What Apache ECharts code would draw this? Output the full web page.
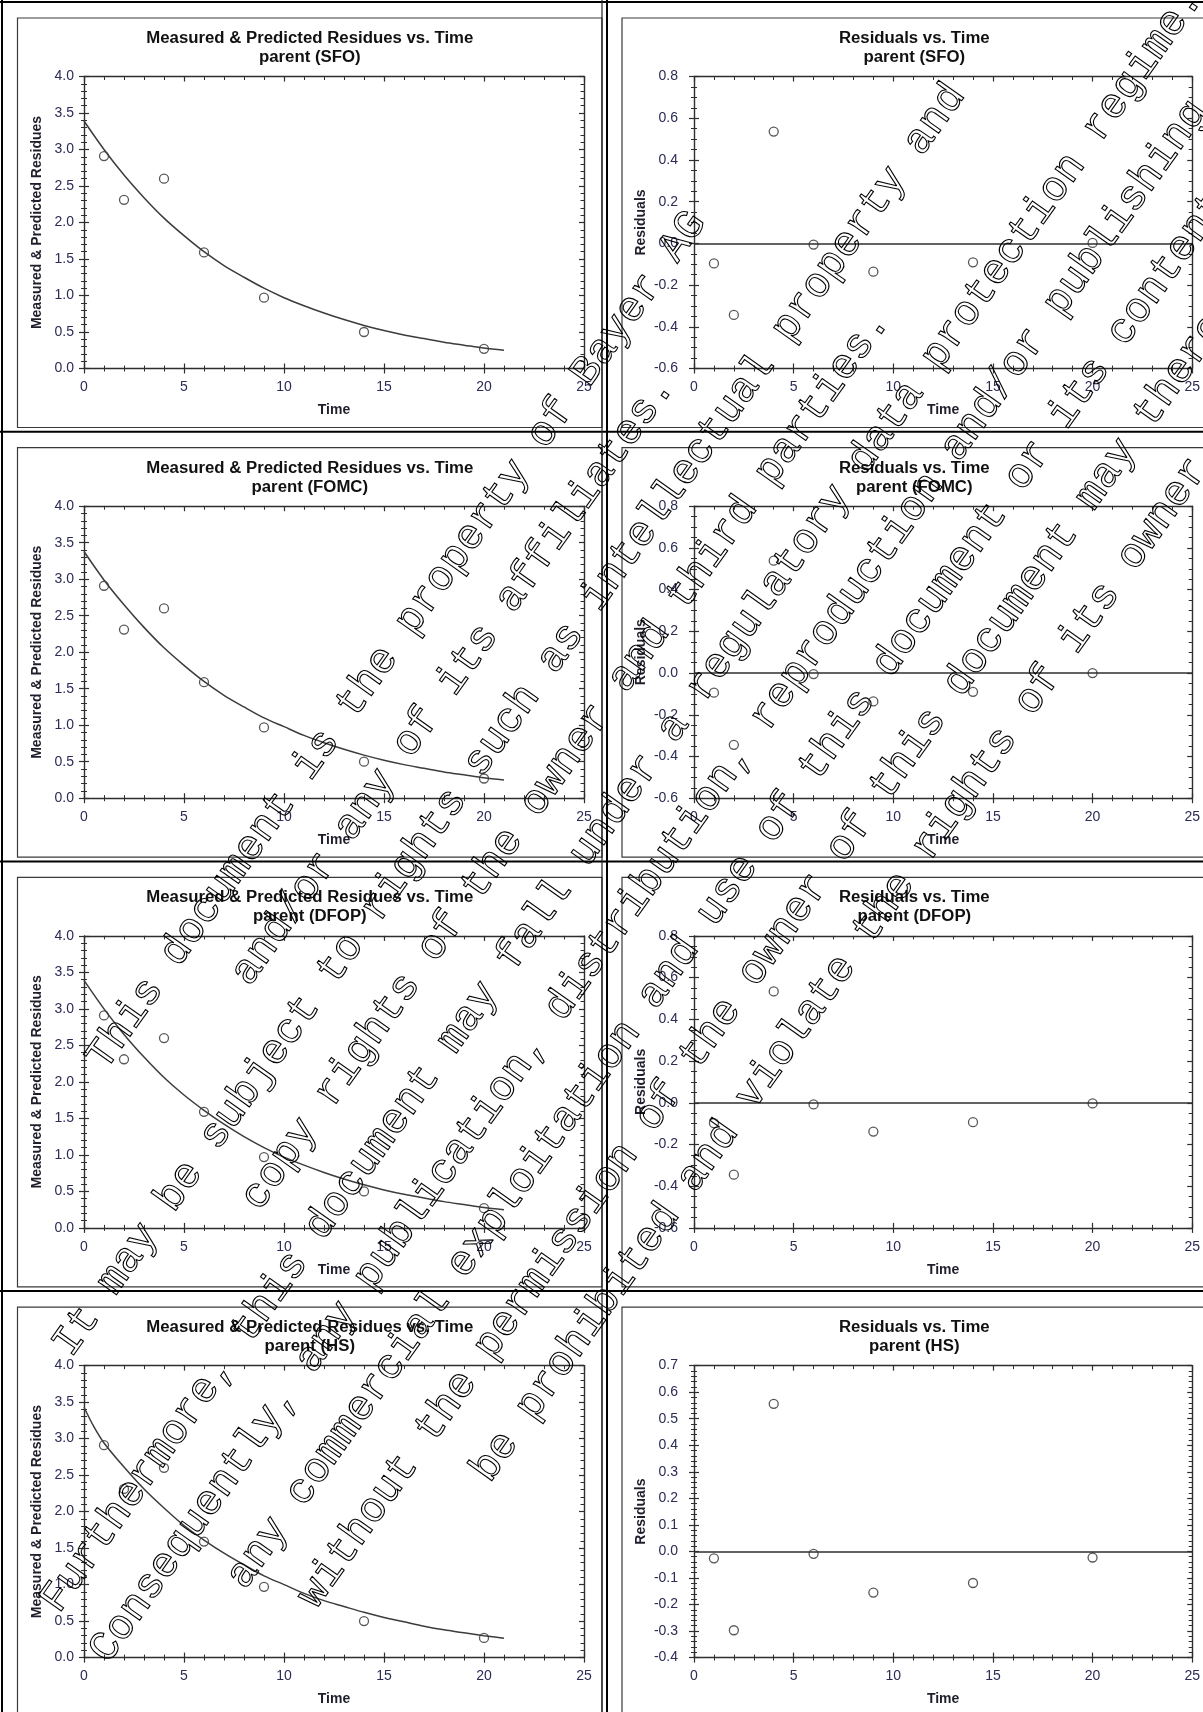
<!DOCTYPE html>
<html>
<head>
<meta charset="utf-8">
<script src="https://cdn.jsdelivr.net/npm/echarts@6/dist/echarts.min.js"></script>
<style>
html,body{margin:0;padding:0;background:#fff;}
#c{width:1203px;height:1712px;}
</style>
</head>
<body>
<div id="c"></div>
<script>
// ---------------- data ----------------
const sampleTimes = [1, 2, 4, 6, 9, 14, 20];
const measuredResidues = [2.91, 2.31, 2.60, 1.59, 0.97, 0.50, 0.27];

const fitTimes = [0, 1, 2, 3, 4, 5, 6, 7, 8, 9, 10, 11, 12, 13, 14, 15, 16, 17, 18, 19, 20, 21];
const fitSFO  = [3.39, 3.00, 2.65, 2.34, 2.06, 1.82, 1.60, 1.41, 1.25, 1.10, 0.97, 0.86, 0.76, 0.67, 0.59, 0.52, 0.46, 0.41, 0.36, 0.32, 0.28, 0.25];
const fitFOMC = [3.38, 2.99, 2.65, 2.34, 2.06, 1.82, 1.60, 1.41, 1.25, 1.10, 0.98, 0.86, 0.76, 0.67, 0.59, 0.52, 0.46, 0.41, 0.36, 0.32, 0.28, 0.25];
const fitDFOP = [3.39, 3.00, 2.65, 2.34, 2.06, 1.82, 1.61, 1.42, 1.25, 1.10, 0.97, 0.86, 0.76, 0.67, 0.59, 0.52, 0.46, 0.41, 0.36, 0.32, 0.28, 0.25];
const fitTimesHS = [0, 0.5, 1, 2, 3, 4, 5, 6, 7, 8, 9, 10, 11, 12, 13, 14, 15, 16, 17, 18, 19, 20, 21];
const fitHS   = [3.43, 3.16, 2.94, 2.61, 2.31, 2.05, 1.81, 1.61, 1.43, 1.27, 1.12, 1.00, 0.88, 0.78, 0.70, 0.62, 0.55, 0.49, 0.43, 0.38, 0.34, 0.30, 0.265];

const residSFO  = [-0.096, -0.343, 0.536, -0.006, -0.136, -0.091, 0.002];
const residFOMC = [-0.094, -0.344, 0.539, -0.005, -0.136, -0.090, 0.000];
const residDFOP = [-0.098, -0.345, 0.534, -0.008, -0.138, -0.093, -0.003];
const residHS   = [-0.026, -0.297, 0.556, -0.009, -0.155, -0.119, -0.023];

const modelNames = ['SFO', 'FOMC', 'DFOP', 'HS'];
const timeAxis = [0, 25, 5];            // min, max, step
const residueAxis = [0, 4, 0.5];        // min, max, step
const residualAxes = [[-0.6, 0.8, 0.2], [-0.6, 0.8, 0.2], [-0.6, 0.8, 0.2], [-0.4, 0.7, 0.1]];
const residualMinorSplits = [4, 4, 4, 5];

const watermarkLines = [
  "This document is the property of Bayer AG",
  "and/or any of its affiliates.",
  "It may be subject to rights such as intellectual property and",
  "copy rights of the owner and third parties.",
  "Furthermore, this document may fall under a regulatory data protection regime.",
  "Consequently, any publication, distribution, reproduction and/or publishing and",
  "any commercial exploitation and use of this document or its contents",
  "without the permission of the owner of this document may therefore",
  "be prohibited and violate the rights of its owner."
];

// ---------------- layout / style ----------------
const FONT = '"Liberation Sans", Arial, Helvetica, sans-serif';
const LBL = '#2b2b55';
const AX = '#2e2e2e';
const colLeft = [84, 694];
const rowTop = [76.5, 506.2, 935.9, 1365.6];
const plotW = 500, plotH = 292;
const frameX = [17.5, 622], frameW = [584.5, 600];

const fitsByModel = { SFO: [fitTimes, fitSFO], FOMC: [fitTimes, fitFOMC], DFOP: [fitTimes, fitDFOP], HS: [fitTimesHS, fitHS] };
const residByModel = { SFO: residSFO, FOMC: residFOMC, DFOP: residDFOP, HS: residHS };

function fmt1(v) { return Math.abs(v) < 1e-9 ? '0.0' : v.toFixed(1); }

const grids = [], xAxes = [], yAxes = [], series = [], graphics = [];

function makeX(g) {
  const base = { gridIndex: g, type: 'value', min: timeAxis[0], max: timeAxis[1], interval: timeAxis[2],
    splitLine: { show: false }, minorSplitLine: { show: false } };
  xAxes.push(Object.assign({}, base, {
    position: 'bottom',
    axisLine: { show: true, onZero: false, lineStyle: { color: AX, width: 1.4 } },
    axisTick: { show: true, inside: false, length: 5, lineStyle: { color: AX, width: 1.2 } },
    minorTick: { show: true, splitNumber: 5, length: 3, lineStyle: { color: AX, width: 1 } },
    axisLabel: { show: true, margin: 12, fontSize: 14, fontFamily: FONT, color: LBL, showMinLabel: true, showMaxLabel: true },
    name: 'Time', nameLocation: 'middle', nameGap: 35,
    nameTextStyle: { fontSize: 14, fontWeight: 'bold', fontFamily: FONT, color: '#1e1e2c' }
  }));
  xAxes.push(Object.assign({}, base, {
    position: 'bottom',
    axisLine: { show: false, onZero: false },
    axisTick: { show: true, inside: true, length: 5, lineStyle: { color: AX, width: 1.2 } },
    minorTick: { show: true, splitNumber: 5, length: 3, lineStyle: { color: AX, width: 1 } },
    axisLabel: { show: false }
  }));
  xAxes.push(Object.assign({}, base, {
    position: 'top',
    axisLine: { show: true, onZero: false, lineStyle: { color: AX, width: 1.4 } },
    axisTick: { show: true, inside: true, length: 5, lineStyle: { color: AX, width: 1.2 } },
    minorTick: { show: true, splitNumber: 5, length: 3.5, lineStyle: { color: AX, width: 1 } },
    axisLabel: { show: false }
  }));
}

function makeY(g, range, minorSplit, name, gap, margin) {
  const base = { gridIndex: g, type: 'value', min: range[0], max: range[1], interval: range[2],
    splitLine: { show: false }, minorSplitLine: { show: false } };
  yAxes.push(Object.assign({}, base, {
    position: 'left',
    axisLine: { show: true, onZero: false, lineStyle: { color: AX, width: 1.4 } },
    axisTick: { show: true, inside: false, length: 5, lineStyle: { color: AX, width: 1.2 } },
    minorTick: { show: true, splitNumber: minorSplit, length: 3, lineStyle: { color: AX, width: 1 } },
    axisLabel: { show: true, margin: margin, fontSize: 14, fontFamily: FONT, color: LBL, formatter: fmt1, showMinLabel: true, showMaxLabel: true },
    name: name, nameLocation: 'middle', nameGap: gap,
    nameTextStyle: { fontSize: 14, fontWeight: 'bold', fontFamily: FONT, color: '#1e1e2c' }
  }));
  yAxes.push(Object.assign({}, base, {
    position: 'left',
    axisLine: { show: false, onZero: false },
    axisTick: { show: true, inside: true, length: 5, lineStyle: { color: AX, width: 1.2 } },
    minorTick: { show: true, splitNumber: minorSplit, length: 3, lineStyle: { color: AX, width: 1 } },
    axisLabel: { show: false }
  }));
  yAxes.push(Object.assign({}, base, {
    position: 'right',
    axisLine: { show: true, onZero: false, lineStyle: { color: AX, width: 1.4 } },
    axisTick: { show: true, inside: true, length: 5, lineStyle: { color: AX, width: 1.2 } },
    minorTick: { show: true, splitNumber: minorSplit, length: 3.5, lineStyle: { color: AX, width: 1 } },
    axisLabel: { show: false }
  }));
}

const circleStyle = { color: 'rgba(255,255,255,0)', borderColor: '#2e2e2e', borderWidth: 1.3 };

for (let r = 0; r < 4; r++) {
  const model = modelNames[r];
  for (let c = 0; c < 2; c++) {
    const g = r * 2 + c;
    grids.push({ left: colLeft[c], top: rowTop[r], width: plotW, height: plotH, containLabel: false });
    makeX(g);
    if (c === 0) {
      makeY(g, residueAxis, 5, 'Measured & Predicted Residues', 40, 10);
      const ft = fitsByModel[model];
      series.push({
        type: 'line', xAxisIndex: 3 * g, yAxisIndex: 3 * g, smooth: 0.3, showSymbol: false, silent: true,
        lineStyle: { color: '#3c3c3c', width: 1.5 },
        data: ft[0].map((t, i) => [t, ft[1][i]])
      });
      series.push({
        type: 'scatter', xAxisIndex: 3 * g, yAxisIndex: 3 * g, symbol: 'circle', symbolSize: 9, silent: true,
        itemStyle: circleStyle,
        data: sampleTimes.map((t, i) => [t, measuredResidues[i]])
      });
    } else {
      makeY(g, residualAxes[r], residualMinorSplits[r], 'Residuals', 46, 16);
      const res = residByModel[model];
      series.push({
        type: 'scatter', xAxisIndex: 3 * g, yAxisIndex: 3 * g, symbol: 'circle', symbolSize: 9, silent: true,
        itemStyle: circleStyle,
        data: sampleTimes.map((t, i) => [t, res[i]]),
        markLine: { silent: true, symbol: ['none', 'none'], label: { show: false },
          lineStyle: { color: '#2e2e2e', width: 1.7, type: 'solid' }, data: [{ yAxis: 0 }] }
      });
    }
    // chart frame
    graphics.push({ type: 'rect', silent: true, z: 1,
      shape: { x: frameX[c], y: rowTop[r] - 58.5, width: frameW[c], height: 409.5 },
      style: { fill: 'none', stroke: '#3a3a3a', lineWidth: 1.2 } });
    // title
    const cx = frameX[c] + 292.3;
    const t1 = c === 0 ? 'Measured & Predicted Residues vs. Time' : 'Residuals vs. Time';
    graphics.push({ type: 'text', silent: true, z: 5, x: cx, y: rowTop[r] - 28.7,
      style: { text: t1 + '\nparent (' + model + ')', align: 'center', verticalAlign: 'middle',
        lineHeight: 19, fontSize: 16.8, fontWeight: 'bold', fontFamily: FONT, fill: '#111111' } });
  }
}

// table cell borders
[2, 431.7, 861.4, 1291.1].forEach(y => {
  graphics.push({ type: 'line', silent: true, z: 2, shape: { x1: 0, y1: y, x2: 1203, y2: y },
    style: { stroke: '#000', lineWidth: 2 } });
});
[2, 607].forEach(x => {
  graphics.push({ type: 'line', silent: true, z: 2, shape: { x1: x, y1: 0, x2: x, y2: 1712 },
    style: { stroke: '#000', lineWidth: 2 } });
});
graphics.push({ type: 'line', silent: true, z: 2, shape: { x1: 602, y1: 0, x2: 602, y2: 1712 },
  style: { stroke: '#222', lineWidth: 1.2 } });

// watermark (outlined monospace text, rotated)
graphics.push({ type: 'text', silent: true, z: 100, x: 622, y: 800, rotation: 54.7 * Math.PI / 180,
  style: { text: watermarkLines.join('\n'), align: 'center', verticalAlign: 'middle', lineHeight: 69,
    fontSize: 42.3, fontFamily: '"Liberation Mono", "Courier New", monospace',
    fill: 'none', stroke: '#000', lineWidth: 1.1 } });

const chart = echarts.init(document.getElementById('c'), null, { renderer: 'canvas', width: 1203, height: 1712 });
chart.setOption({
  animation: false,
  backgroundColor: '#ffffff',
  grid: grids,
  xAxis: xAxes,
  yAxis: yAxes,
  series: series,
  graphic: { elements: graphics }
});
</script>
</body>
</html>
